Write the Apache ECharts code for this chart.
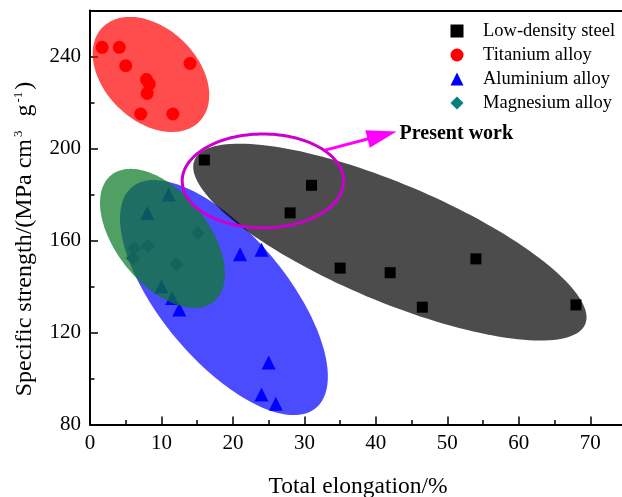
<!DOCTYPE html>
<html>
<head>
<meta charset="utf-8">
<script src="https://cdn.jsdelivr.net/npm/echarts@6/dist/echarts.min.js"></script>
<style>
html,body{margin:0;padding:0;background:#fff;}
#chart{width:622px;height:497px;}
</style>
</head>
<body>
<div id="chart"></div>
<script>
// ---- data ----
const seriesNames = ['Low-density steel', 'Titanium alloy', 'Aluminium alloy', 'Magnesium alloy'];

const steelX = [16, 28, 31, 35, 42, 46.5, 54, 68];
const steelY = [195, 172, 184, 148, 146, 131, 152, 132];

const titaniumX = [1.7, 4.1, 5.0, 7.9, 8.3, 8.0, 7.1, 11.6, 14.0];
const titaniumY = [244, 244, 236, 230, 228, 224, 215, 215, 237];

const aluminiumX = [8, 11, 10, 11.5, 12.5, 21, 24, 25, 24, 26];
const aluminiumY = [172, 180, 140, 135, 130, 154, 156, 107, 93, 89];

const magnesiumX = [6.2, 8.1, 6.0, 12.1, 15.1];
const magnesiumY = [156.6, 157.6, 152.3, 149.7, 163.3];

// regions (data space): [centerX, centerY, majorEndX, majorEndY, minorEndX, minorEndY]
const steelRegion = [41.96, 159.3, 69.29, 123.6, 38.76, 135.7];
const titaniumRegion = [8.53, 232.2, 15.33, 211.8, 4.03, 217.7];
const aluminiumRegion = [18.74, 135.2, 31.61, 87.2, 11.97, 117.7];
const magnesiumRegion = [10.14, 160.9, 17.33, 133.4, 5.17, 148.3];
const presentWorkRing = [24.2, 185.9, 35.5, 185.9, 24.2, 165.5];

// annotation arrow (data space): [startX, startY, endX, endY]
const presentWorkArrow = [32.9, 199.3, 42.9, 207.4];
const presentWorkLabel = 'Present work';

const xTicks = {min: 0, max: 75, interval: 10, minor: 5};
const yTicks = {min: 80, max: 260, interval: 40, minor: 20};

// ---- helpers ----
const FONT = "'Liberation Serif', 'Times New Roman', serif";
function zip(xs, ys) { return xs.map((x, i) => [x, ys[i]]); }

function ellipseSeries(name, region, fill, stroke, z) {
  return {
    type: 'custom', name: name, z: z, silent: true,
    data: [region],
    renderItem: function (params, api) {
      const c = api.coord([api.value(0), api.value(1)]);
      const m = api.coord([api.value(2), api.value(3)]);
      const n = api.coord([api.value(4), api.value(5)]);
      const ux = m[0] - c[0], uy = m[1] - c[1], vx = n[0] - c[0], vy = n[1] - c[1];
      const pts = [];
      const N = 160;
      for (let i = 0; i < N; i++) {
        const t = i / N * Math.PI * 2;
        pts.push([c[0] + ux * Math.cos(t) + vx * Math.sin(t), c[1] + uy * Math.cos(t) + vy * Math.sin(t)]);
      }
      return {
        type: 'polygon', shape: {points: pts},
        style: stroke ? {fill: 'none', stroke: stroke, lineWidth: 3} : {fill: fill}
      };
    }
  };
}

const arrowSeries = {
  type: 'custom', name: 'arrow', z: 20, silent: true,
  data: [presentWorkArrow],
  renderItem: function (params, api) {
    const a = api.coord([api.value(0), api.value(1)]);
    const b = api.coord([api.value(2), api.value(3)]);
    const dx = b[0] - a[0], dy = b[1] - a[1];
    const L = Math.sqrt(dx * dx + dy * dy);
    const ux = dx / L, uy = dy / L, px = -uy, py = ux;
    const headLen = 30, headW = 9;
    const base = [b[0] - ux * headLen, b[1] - uy * headLen];
    return {
      type: 'group',
      children: [
        {type: 'line', shape: {x1: a[0], y1: a[1], x2: base[0] + ux * 2, y2: base[1] + uy * 2},
         style: {stroke: '#ff00ff', lineWidth: 3}},
        {type: 'polygon', shape: {points: [b, [base[0] + px * headW, base[1] + py * headW], [base[0] - px * headW, base[1] - py * headW]]},
         style: {fill: '#ff00ff'}},
        {type: 'text', x: b[0] + 3, y: b[1] + 2,
         style: {text: presentWorkLabel, font: 'bold 20px ' + FONT, fill: '#000', verticalAlign: 'middle', align: 'left'}}
      ]
    };
  }
};

const chart = echarts.init(document.getElementById('chart'), null, {renderer: 'canvas'});
const option = {
  animation: false,
  backgroundColor: '#fff',
  grid: {left: 90, right: -4, top: 10.5, bottom: 72.5, containLabel: false, outerBoundsMode: 'none'},
  legend: {
    orient: 'vertical', left: 450.5, top: 21, padding: 0,
    itemWidth: 13, itemHeight: 13, itemGap: 4,
    textStyle: {fontFamily: FONT, fontSize: 18.5, color: '#000', lineHeight: 20, padding: [0, 0, 0, 14.5]},
    selectedMode: false,
    data: [
      {name: seriesNames[0], itemStyle: {color: '#000'}},
      {name: seriesNames[1]},
      {name: seriesNames[2]},
      {name: seriesNames[3], itemStyle: {color: '#008080'}}
    ]
  },
  xAxis: [
    {
      type: 'value', min: xTicks.min, max: xTicks.max, interval: xTicks.interval,
      name: 'Total elongation/%', nameLocation: 'middle', nameGap: 50,
      nameTextStyle: {fontFamily: FONT, fontSize: 23.5, color: '#000'},
      axisLine: {show: true, lineStyle: {color: '#000', width: 2}},
      axisTick: {show: true, inside: true, length: 8, lineStyle: {color: '#000', width: 1.5}},
      axisLabel: {fontFamily: FONT, fontSize: 21, color: '#000', margin: 8, showMaxLabel: false},
      splitLine: {show: false}
    },
    {
      type: 'value', min: xTicks.min, max: xTicks.max, interval: xTicks.minor, position: 'bottom',
      axisLine: {show: false},
      axisTick: {show: true, inside: true, length: 4.5, lineStyle: {color: '#000', width: 1.5}},
      axisLabel: {show: false}, splitLine: {show: false}
    },
    {
      type: 'value', min: xTicks.min, max: xTicks.max, position: 'top',
      axisLine: {show: true, lineStyle: {color: '#000', width: 2}},
      axisTick: {show: false}, axisLabel: {show: false}, splitLine: {show: false}
    }
  ],
  yAxis: [
    {
      type: 'value', min: yTicks.min, max: yTicks.max, interval: yTicks.interval,
      name: '{a|Specific strength/(MPa cm}{s|3}{a|  g}{s|-1}{a|)}',
      nameLocation: 'middle', nameGap: 52, nameRotate: 90,
      nameTextStyle: {
        fontFamily: FONT, fontSize: 24, color: '#000', padding: [0, 43, 0, 0],
        rich: {
          a: {fontFamily: FONT, fontSize: 24, color: '#000', lineHeight: 26},
          s: {fontFamily: FONT, fontSize: 13, color: '#000', verticalAlign: 'top', lineHeight: 13, padding: [0, 2, 0, 2]}
        }
      },
      axisLine: {show: true, lineStyle: {color: '#000', width: 2}},
      axisTick: {show: true, inside: true, length: 8, lineStyle: {color: '#000', width: 1.5}},
      axisLabel: {fontFamily: FONT, fontSize: 21, color: '#000', margin: 9, showMaxLabel: false},
      splitLine: {show: false}
    },
    {
      type: 'value', min: yTicks.min, max: yTicks.max, interval: yTicks.minor, position: 'left',
      axisLine: {show: false},
      axisTick: {show: true, inside: true, length: 4.5, lineStyle: {color: '#000', width: 1.5}},
      axisLabel: {show: false}, splitLine: {show: false}
    }
  ],
  series: [
    ellipseSeries('region-al', aluminiumRegion, 'rgba(0,0,255,0.7)', null, 1),
    ellipseSeries('region-steel', steelRegion, 'rgba(0,0,0,0.7)', null, 2),
    ellipseSeries('region-ti', titaniumRegion, 'rgba(255,0,0,0.7)', null, 2),
    {
      type: 'scatter', name: seriesNames[0], z: 3, symbol: 'rect', symbolSize: 11,
      itemStyle: {color: '#000', opacity: 1}, data: zip(steelX, steelY)
    },
    {
      type: 'scatter', name: seriesNames[1], z: 3, symbol: 'circle', symbolSize: 13,
      itemStyle: {color: '#ff0000', opacity: 1}, data: zip(titaniumX, titaniumY)
    },
    {
      type: 'scatter', name: seriesNames[2], z: 3, symbol: 'triangle', symbolSize: 14,
      itemStyle: {color: '#0000ff', opacity: 1}, data: zip(aluminiumX, aluminiumY)
    },
    ellipseSeries('region-mg', magnesiumRegion, 'rgba(12,123,39,0.72)', null, 4),
    {
      type: 'scatter', name: seriesNames[3], z: 5, symbol: 'diamond', symbolSize: 14,
      itemStyle: {color: '#13645a', opacity: 1}, data: zip(magnesiumX, magnesiumY)
    },
    ellipseSeries('ring', presentWorkRing, null, '#cc00cc', 10),
    arrowSeries
  ]
};
chart.setOption(option);
</script>
</body>
</html>
